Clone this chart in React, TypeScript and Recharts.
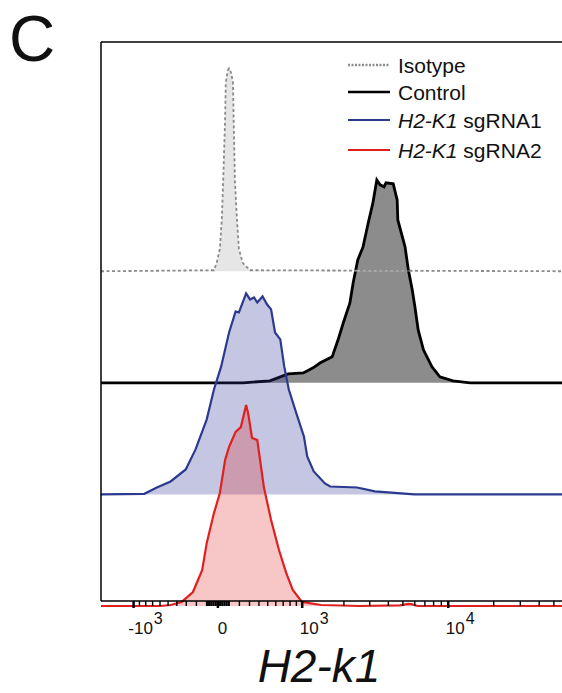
import { ComposedChart, Area, XAxis, YAxis, ReferenceLine } from "recharts"

const FONT = "'Liberation Sans', Arial, Helvetica, sans-serif"

// x values are on the biexponential display scale: 100 * asinh(fluorescence / 600)
const toScale = (v: number) => 100 * Math.asinh(v / 600)
const X_MIN = -178
const X_MAX = 524

// y: % of max, each histogram shifted up by its lane offset
const Y_MAX = 278
const AXIS_Y = 2.46

const isotypeX = [-178, -6, -2, 3, 6, 8, 11, 12, 15, 17, 20, 23, 24, 26, 29, 32, 38, 49, 524]
const isotypeY = [0, 0.5, 4, 11, 26, 44, 75, 93, 99, 100, 98, 93, 75, 44, 26, 11, 4, 0.5, 0]

const controlX = [-178, 38, 79, 107, 130, 145, 156, 174, 183, 191, 201, 206, 213, 221, 229, 236, 242, 247, 253, 256, 267, 273, 274, 285, 290, 296, 300, 305, 313, 326, 338, 358, 384, 524]
const controlY = [0, 0, 1, 4.4, 4.9, 7.4, 9.9, 12.8, 21.2, 29.6, 39.4, 49.3, 60.6, 67, 78.9, 88.7, 100, 97.6, 96.6, 98.6, 98.1, 90.2, 80.3, 67, 55.7, 45.8, 37.5, 26.1, 16.3, 7.9, 3, 1, 0, 0]

const sg1X = [-178, -112, -93, -72, -49, -34, -17, -6, 5, 17, 27, 32, 43, 49, 55, 60, 68, 75, 81, 87, 95, 101, 108, 119, 131, 136, 146, 163, 171, 212, 239, 299, 524]
const sg1Y = [0, 0.3, 3.4, 6.4, 12.3, 22.2, 37, 51.7, 63.1, 79.8, 90.2, 89.7, 99.1, 96.1, 97.1, 94.6, 97.6, 93.6, 91.2, 79.8, 76.4, 63.1, 51.7, 40.4, 28.6, 18.7, 11.3, 5.4, 3.9, 3.4, 1.5, 0, 0]

const sg2X = [-178, -88, -72, -55, -38, -24, -17, -6, 3, 11, 17, 27, 35, 43, 46, 52, 60, 70, 81, 93, 104, 114, 128, 157, 216, 277, 290, 296, 304, 524]
const sg2Y = [0, 0, 0.5, 2, 6.9, 17.7, 31, 45.8, 55.7, 72, 78.4, 85.8, 88.2, 99.1, 95.1, 82.8, 81.8, 58.6, 42.4, 27.6, 16.3, 7.9, 2, 0.5, 0, 0.3, 1, 0.8, 0, 0]

const offsets = { isotype: 165, control: 110, sg1: 55, sg2: 0 }

const majorTicks = [
  { value: -1000, base: "-10", exp: "3" },
  { value: 0, base: "0", exp: "" },
  { value: 1000, base: "10", exp: "3" },
  { value: 10000, base: "10", exp: "4" },
]
const minorTicks = [
  -900, -800, -700, -600, -500, -400, -300, -200, -100,
  -80, -60, -40, -20, 20, 40, 60, 80, 100,
  200, 300, 400, 500, 600, 700, 800, 900,
  2000, 3000, 4000, 5000, 6000, 7000, 8000, 9000,
  20000, 30000, 40000, 50000,
]
const tickValues = [...majorTicks.map((t) => t.value), ...minorTicks].map(toScale)

const legendItems = [
  { italic: "", text: "Isotype", color: "#8c8c8c", dash: "2 1.5", width: 2.5 },
  { italic: "", text: "Control", color: "#000000", dash: undefined, width: 2.5 },
  { italic: "H2-K1", text: " sgRNA1", color: "#2b3a8f", dash: undefined, width: 2 },
  { italic: "H2-K1", text: " sgRNA2", color: "#e0201f", dash: undefined, width: 2 },
]

const build = (xs: number[], ys: number[], off: number) => xs.map((x, i) => ({ x, y: ys[i] + off }))

function AxisTick(props: any) {
  const { x, y, payload } = props
  const major = majorTicks.find((t) => Math.abs(toScale(t.value) - payload.value) < 1e-6)
  const top = y - 5
  if (!major) {
    const nearZero = Math.abs(payload.value) < 20
    return <line x1={x} x2={x} y1={top} y2={top + 5} stroke="#000" strokeWidth={nearZero ? 2.2 : 1.4} />
  }
  const fs = 17
  const w = fs * (0.556 * major.base.replace("-", "").length + (major.base.startsWith("-") ? 0.333 : 0))
  const cx = major.exp ? x + 7 : x + 4.5
  return (
    <g>
      <line x1={x} x2={x} y1={top} y2={top + 7} stroke="#000" strokeWidth={2.5} />
      <text x={cx} y={y + 28} textAnchor="middle" fontSize={fs} fontFamily={FONT} fill="#111">
        {major.base}
      </text>
      {major.exp && (
        <text x={cx + w / 2 + 1} y={y + 18} fontSize={16} fontFamily={FONT} fill="#111">
          {major.exp}
        </text>
      )}
    </g>
  )
}

export default function App() {
  return (
    <div style={{ position: "absolute", left: 0, top: 0, width: 562, height: 693, background: "#fff" }}>
      <ComposedChart width={562} height={693} margin={{ top: 42, right: 0, bottom: 0, left: 101 }}>
        <XAxis
          type="number"
          dataKey="x"
          domain={[X_MIN, X_MAX]}
          allowDataOverflow
          ticks={tickValues}
          interval={0}
          height={87}
          axisLine={false}
          tickLine={false}
          tickSize={0}
          tickMargin={0}
          tick={<AxisTick />}
        />
        <YAxis type="number" domain={[0, Y_MAX]} hide width={0} />
        <Area
          data={build(controlX, controlY, offsets.control)}
          dataKey="y"
          type="linear"
          baseValue={offsets.control}
          stroke="#000"
          strokeWidth={2.8}
          fill="#8c8c8c"
          fillOpacity={1}
          dot={false}
          activeDot={false}
          isAnimationActive={false}
        />
        <Area
          data={build(sg1X, sg1Y, offsets.sg1)}
          dataKey="y"
          type="linear"
          baseValue={offsets.sg1}
          stroke="#2b3a8f"
          strokeWidth={2.2}
          fill="#2e3192"
          fillOpacity={0.28}
          dot={false}
          activeDot={false}
          isAnimationActive={false}
        />
        <Area
          data={build(sg2X, sg2Y, offsets.sg2)}
          dataKey="y"
          type="linear"
          baseValue={offsets.sg2}
          stroke="#e0201f"
          strokeWidth={2.2}
          fill="#e0201f"
          fillOpacity={0.25}
          dot={false}
          activeDot={false}
          isAnimationActive={false}
        />
        <Area
          data={build(isotypeX, isotypeY, offsets.isotype)}
          dataKey="y"
          type="linear"
          baseValue={offsets.isotype}
          stroke="#8a8a8a"
          strokeWidth={1.8}
          strokeDasharray="3 2.5"
          fill="#e6e6e6"
          fillOpacity={1}
          dot={false}
          activeDot={false}
          isAnimationActive={false}
        />
        <ReferenceLine y={AXIS_Y} stroke="#000" strokeWidth={1.5} />
        <ReferenceLine y={Y_MAX} stroke="#000" strokeWidth={1.5} />
        <ReferenceLine segment={[{ x: X_MIN, y: AXIS_Y }, { x: X_MIN, y: Y_MAX }]} stroke="#000" strokeWidth={1.5} />
      </ComposedChart>
      <svg width={562} height={693} style={{ position: "absolute", left: 0, top: 0, pointerEvents: "none" }}>
        <text x={9} y={61} fontSize={64} fontFamily={FONT} fill="#111">C</text>
        {legendItems.map((item, i) => {
          const ly = [65, 92, 120, 150][i]
          return (
            <g key={i}>
              <line x1={348} x2={390} y1={ly} y2={ly} stroke={item.color} strokeWidth={item.width} strokeDasharray={item.dash} />
              <text x={398} y={ly + 8} fontSize={21} fontFamily={FONT} fill="#111">
                {item.italic && <tspan fontStyle="italic">{item.italic}</tspan>}
                <tspan>{item.text}</tspan>
              </text>
            </g>
          )
        })}
        <text x={319} y={682} textAnchor="middle" fontSize={46} fontStyle="italic" fontFamily={FONT} fill="#111">H2-k1</text>
      </svg>
    </div>
  )
}
